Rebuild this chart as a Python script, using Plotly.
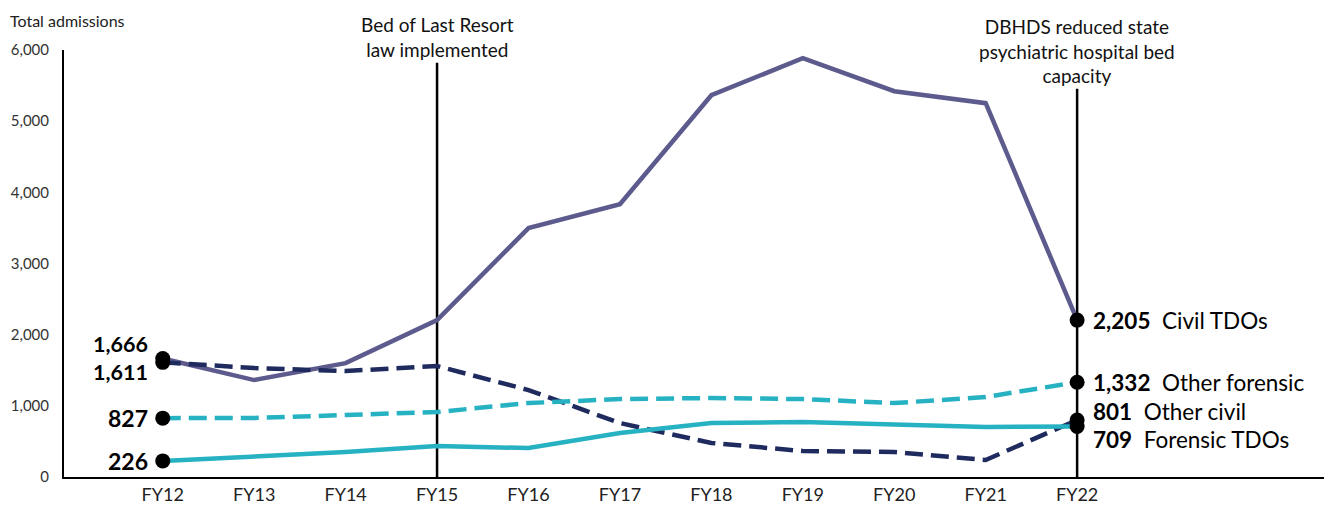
import plotly.graph_objects as go

years = ["FY12", "FY13", "FY14", "FY15", "FY16", "FY17", "FY18", "FY19", "FY20", "FY21", "FY22"]
civil_tdos = [1666, 1362, 1600, 2205, 3497, 3834, 5365, 5885, 5421, 5253, 2205]
other_civil = [1611, 1531, 1489, 1559, 1222, 758, 478, 365, 351, 239, 801]
other_forensic = [827, 829, 871, 913, 1039, 1095, 1110, 1095, 1039, 1124, 1332]
forensic_tdos = [226, 281, 351, 435, 407, 618, 758, 772, 744, 702, 709]

series_names = ["Civil TDOs", "Other civil", "Other forensic", "Forensic TDOs"]
series_values = [civil_tdos, other_civil, other_forensic, forensic_tdos]
series_colors = ["#5D5B8D", "#1F2B5E", "#26B2C2", "#26B2C2"]
series_dash = ["solid", "18px,8px", "18px,8px", "solid"]
end_order_yshift = [0, 9, 0, -13]

FONT = "Lato"
x = list(range(len(years)))

fig = go.Figure()
for name, vals, col, dash in zip(series_names, series_values, series_colors, series_dash):
    fig.add_trace(go.Scatter(x=x, y=vals, mode="lines", name=name,
                             line=dict(color=col, width=4.5, dash=dash)))

# endpoint markers
for vals in series_values:
    fig.add_trace(go.Scatter(x=[x[0], x[-1]], y=[vals[0], vals[-1]], mode="markers",
                             marker=dict(color="black", size=15), showlegend=False,
                             cliponaxis=False))

annotations = []
# start labels: the first two are close together, so stack them in one text block
top_pair = f"<b>{civil_tdos[0]:,}<br>{other_civil[0]:,}</b>"
annotations.append(dict(x=x[0], y=(civil_tdos[0] + other_civil[0]) / 2, xref="x", yref="y",
                        text=top_pair, showarrow=False, xanchor="right", yanchor="middle",
                        align="right", xshift=-13, yshift=2,
                        font=dict(family=FONT, size=21.5, color="black")))
for vals in (other_forensic, forensic_tdos):
    annotations.append(dict(x=x[0], y=vals[0], xref="x", yref="y", text=f"<b>{vals[0]:,}</b>",
                            showarrow=False, xanchor="right", yanchor="middle", xshift=-13,
                            font=dict(family=FONT, size=23, color="black")))
for name, vals, ys1 in zip(series_names, series_values, end_order_yshift):
    annotations.append(dict(x=x[-1], y=vals[-1], xref="x", yref="y",
                            text=f"<b>{vals[-1]:,}</b>&nbsp; {name}",
                            showarrow=False, xanchor="left", yanchor="middle", xshift=14, yshift=ys1,
                            font=dict(family=FONT, size=22.5, color="black")))

annotations.append(dict(x=0, y=1.0, xref="paper", yref="paper", xanchor="left", yanchor="bottom",
                        text="Total admissions", showarrow=False, xshift=-56, yshift=18,
                        font=dict(family=FONT, size=16, color="#222")))
annotations.append(dict(x=3, y=0.97, xref="x", yref="paper", xanchor="center", yanchor="bottom",
                        text="Bed of Last Resort<br>law implemented", showarrow=False, yshift=0,
                        font=dict(family=FONT, size=19, color="#111")))
annotations.append(dict(x=10, y=0.909, xref="x", yref="paper", xanchor="center", yanchor="bottom",
                        text="DBHDS reduced state<br>psychiatric hospital bed<br>capacity", showarrow=False,
                        yshift=0, font=dict(family=FONT, size=19, color="#111")))

shapes = [
    dict(type="line", xref="x", yref="paper", x0=3, x1=3, y0=0, y1=0.97,
         line=dict(color="black", width=2.5), layer="below"),
    dict(type="line", xref="x", yref="paper", x0=10, x1=10, y0=0, y1=0.909,
         line=dict(color="black", width=2.5), layer="below"),
]

fig.update_layout(
    width=1324, height=512,
    margin=dict(l=64, r=0, t=50, b=35),
    paper_bgcolor="white", plot_bgcolor="white",
    showlegend=False,
    annotations=annotations,
    shapes=shapes,
    font=dict(family=FONT),
    xaxis=dict(range=[-1.08, 12.7], tickmode="array", tickvals=x, ticktext=years,
               showgrid=False, zeroline=False, showline=True, linecolor="black", linewidth=2,
               ticks="", tickfont=dict(family=FONT, size=18, color="#222")),
    yaxis=dict(range=[0, 6000], tickvals=[0, 1000, 2000, 3000, 4000, 5000, 6000], tickformat=",",
               showgrid=False, zeroline=False, showline=True, linecolor="black", linewidth=2,
               ticks="", ticklabelstandoff=10, tickfont=dict(family=FONT, size=15, color="#333")),
)

fig.write_html("out.html", config={"displayModeBar": False},
               post_script="document.body.style.margin='0';document.body.style.overflow='hidden';")
